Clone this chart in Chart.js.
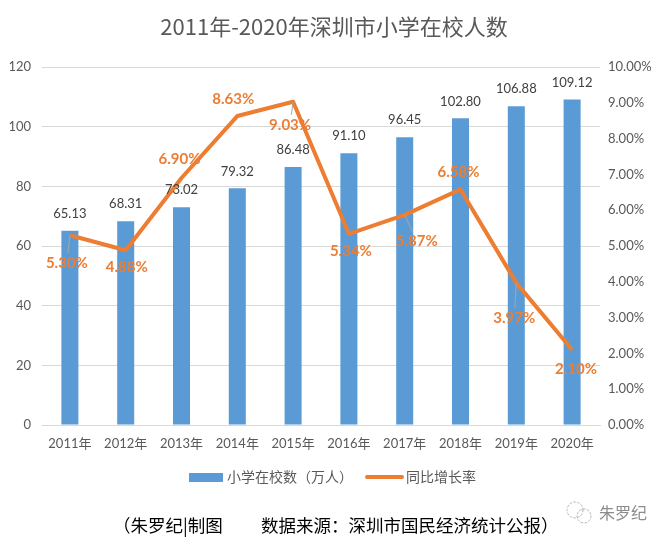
<!DOCTYPE html>
<html>
<head>
<meta charset="utf-8">
<script src="https://cdn.jsdelivr.net/npm/chart.js@4/dist/chart.umd.min.js"></script>
<style>
  html, body { margin: 0; padding: 0; background: #fff; }
  #wrap { position: relative; width: 668px; height: 543px; }
</style>
</head>
<body>
<div id="wrap"><canvas id="chart" width="668" height="543"></canvas></div>
<script>
// 数据
const years = ["2011年", "2012年", "2013年", "2014年", "2015年", "2016年", "2017年", "2018年", "2019年", "2020年"];
const students = [65.13, 68.31, 73.02, 79.32, 86.48, 91.10, 96.45, 102.80, 106.88, 109.12];
const growth = [5.30, 4.88, 6.90, 8.63, 9.03, 5.34, 5.87, 6.58, 3.97, 2.10];
const leftTicks = [0, 20, 40, 60, 80, 100, 120];

// 折线标签相对数据点的偏移
const growthLabelShift = [[-3, 28], [1, 17], [-2, -19], [-4, -17], [-3, 23], [2, 17], [12, 26], [-2, -17], [-2, 35], [4, 19]];

const NUM_FONT = "Lato, 'Noto Sans CJK SC', sans-serif";
const CJK_FONT = "'Noto Sans CJK SC', 'Noto Sans', sans-serif";
const BLUE = "#5B9BD5";
const ORANGE = "#ED7D31";
const GREY = "#595959";

/**
 * 数值标签、标题、图例、脚注
 */
const decorPlugin = {
  id: "decor",
  afterDatasetsDraw(chart) {
    const ctx = chart.ctx;
    ctx.save();

    // 柱子数值
    const barMeta = chart.getDatasetMeta(1);
    ctx.font = "13px " + NUM_FONT;
    ctx.fillStyle = "#404040";
    ctx.textAlign = "center";
    ctx.textBaseline = "middle";
    barMeta.data.forEach((bar, i) => {
      ctx.fillText(students[i].toFixed(2), bar.x, bar.y - 17);
    });

    // 增长率标签
    const lineMeta = chart.getDatasetMeta(0);
    lineMeta.data.forEach((pt, i) => {
      const [dx, dy] = growthLabelShift[i];
      const lx = pt.x + dx, ly = pt.y + dy;
      if (Math.hypot(dx, dy) > 22) {
        const len = Math.hypot(dx, dy);
        ctx.strokeStyle = "#a6a6a6";
        ctx.lineWidth = 1;
        ctx.beginPath();
        ctx.moveTo(pt.x, pt.y);
        ctx.lineTo(lx - dx / len * 10, ly - dy / len * 10);
        ctx.stroke();
      }
      ctx.font = "bold 15px " + NUM_FONT;
      ctx.fillStyle = ORANGE;
      ctx.fillText(growth[i].toFixed(2) + "%", lx, ly);
    });
    ctx.restore();
  },
  afterDraw(chart) {
    const ctx = chart.ctx;
    ctx.save();
    ctx.textBaseline = "middle";

    // 标题
    ctx.font = "22px " + CJK_FONT;
    ctx.fillStyle = GREY;
    ctx.textAlign = "center";
    ctx.fillText("2011年-2020年深圳市小学在校人数", 334, 27);

    // 图例
    ctx.fillStyle = BLUE;
    ctx.fillRect(189, 473, 34, 9);
    ctx.font = "14px " + CJK_FONT;
    ctx.fillStyle = GREY;
    ctx.textAlign = "left";
    ctx.fillText(chart.data.datasets[1].label, 227, 477);
    ctx.strokeStyle = ORANGE;
    ctx.lineWidth = 4;
    ctx.lineCap = "round";
    ctx.beginPath();
    ctx.moveTo(367, 477);
    ctx.lineTo(402, 477);
    ctx.stroke();
    ctx.fillText(chart.data.datasets[0].label, 406, 477);

    // 脚注
    ctx.font = "17.5px " + CJK_FONT;
    ctx.fillStyle = "#000";
    ctx.fillText("（朱罗纪|制图", 113, 525);
    ctx.fillText("数据来源：深圳市国民经济统计公报）", 261, 525);

    // 水印
    ctx.strokeStyle = "#b8b8b8";
    ctx.lineWidth = 1;
    ctx.setLineDash([2, 2]);
    ctx.beginPath();
    ctx.arc(575, 510, 8, 0, Math.PI * 2);
    ctx.stroke();
    ctx.beginPath();
    ctx.arc(584, 516, 7, 0, Math.PI * 2);
    ctx.stroke();
    ctx.setLineDash([]);
    ctx.font = "16px " + CJK_FONT;
    ctx.fillStyle = "#8c8c8c";
    ctx.fillText("朱罗纪", 599, 513);
    ctx.restore();
  }
};

const ctx = document.getElementById("chart").getContext("2d");
new Chart(ctx, {
  data: {
    labels: years,
    datasets: [
      {
        type: "line",
        label: "同比增长率",
        data: growth,
        yAxisID: "y1",
        borderColor: ORANGE,
        borderWidth: 4,
        pointRadius: 0,
        tension: 0,
        borderJoinStyle: "round",
        order: 0
      },
      {
        type: "bar",
        label: "小学在校数（万人）",
        data: students,
        yAxisID: "y",
        backgroundColor: BLUE,
        barPercentage: 0.305,
        categoryPercentage: 1,
        order: 1
      }
    ]
  },
  options: {
    responsive: false,
    animation: false,
    layout: { padding: { top: 67, bottom: 88, left: 0, right: 0 } },
    plugins: {
      legend: { display: false },
      tooltip: { enabled: false }
    },
    scales: {
      x: {
        grid: { display: false, drawTicks: false },
        border: { display: true, color: "#d9d9d9" },
        ticks: { color: GREY, font: { size: 13, family: NUM_FONT }, padding: 11, maxRotation: 0 },
        afterFit(scale) { scale.height = 30; }
      },
      y: {
        position: "left",
        min: 0,
        max: 120,
        afterBuildTicks(scale) { scale.ticks = leftTicks.map(v => ({ value: v })); },
        grid: { color: "#d9d9d9", drawTicks: false },
        border: { display: false },
        ticks: { color: GREY, font: { size: 13, family: NUM_FONT }, padding: 11 },
        afterFit(scale) { scale.width = 42; }
      },
      y1: {
        position: "right",
        min: 0,
        max: 10,
        grid: { display: false, drawTicks: false },
        border: { display: false },
        ticks: {
          stepSize: 1,
          color: GREY,
          font: { size: 13, family: NUM_FONT },
          padding: 8,
          callback: v => v.toFixed(2) + "%"
        },
        afterFit(scale) { scale.width = 68; }
      }
    }
  },
  plugins: [decorPlugin]
});
</script>
</body>
</html>
